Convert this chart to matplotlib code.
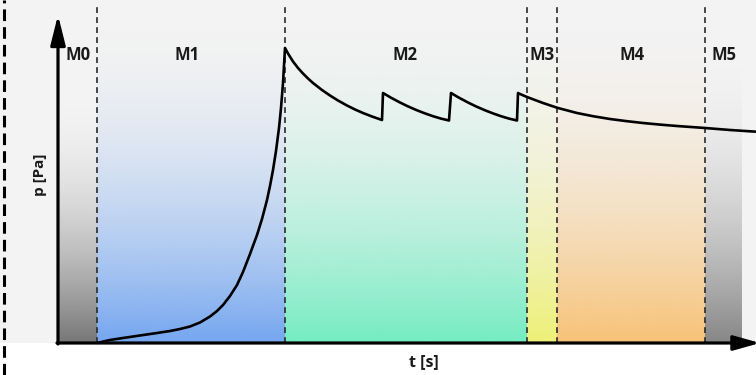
import numpy as np
import matplotlib
matplotlib.use("Agg")
import matplotlib.pyplot as plt
from matplotlib.colors import to_rgb

plt.rcParams['font.family'] = ['Open Sans', 'DejaVu Sans']

# Phase boundaries along t (arbitrary schematic units) and their labels
phase_edges = [0, 39, 227, 469, 499, 647, 684]
phase_labels = ["M0", "M1", "M2", "M3", "M4", "M5"]
phase_colors = ["#767676", "#74a6f0", "#74ecc2", "#eef076", "#f8c276", "#868686"]
phase_fade_top = [250, 330, 330, 330, 330, 290]
label_t = [20, 129, 347, 484, 574, 666]

# Pressure trace p(t)
t_curve = [39, 52, 65, 82, 99, 112, 122, 132, 142, 152, 159, 165, 172, 179, 185,
           192, 199, 204, 209, 212, 215, 218, 221, 223, 225, 227,
           230, 235, 240, 245, 250, 255, 264, 272, 280, 289, 297, 305, 314, 324,
           325, 333, 342, 350, 359, 367, 375, 383, 391,
           393, 401, 410, 418, 427, 435, 443, 451, 459,
           460, 462, 469, 477, 485, 500, 519, 535, 552, 569, 585, 602, 619, 647,
           672, 698]
p_curve = [0, 3, 5, 7.5, 10, 12, 14, 16.5, 20.5, 26.5, 32, 38, 47, 58, 71,
           89, 108, 124, 143, 157, 173, 192, 215, 235, 260, 295,
           289.5, 281.5, 275, 269.5, 264.5, 260, 253, 247.5, 242.5, 237.5, 233.5,
           230, 226.5, 223,
           250, 245.3, 240.5, 236.6, 232.7, 229.6, 226.8, 224.4, 222.5,
           250, 245.3, 240.5, 236.6, 232.7, 229.6, 226.8, 224.4, 222.5,
           250, 249, 246, 243, 240, 235, 230, 226.8, 224, 221.8, 220, 218.4,
           217, 215, 213, 211.3]

fig = plt.figure(figsize=(7.56, 3.75), dpi=100)
ax = fig.add_axes([0, 0, 1, 1])
ax.set_xlim(-58, 698)
ax.set_ylim(-32, 343)
ax.axis("off")
fig.patch.set_facecolor("white")

# light backdrop above the time axis
ax.axhspan(0, 343, color="#f3f3f3", zorder=0, lw=0)

# shaded phase bands, fading out toward the top
n = 256
for i in range(len(phase_labels)):
    t0, t1 = phase_edges[i], phase_edges[i + 1]
    top = phase_fade_top[i]
    rgb = to_rgb(phase_colors[i])
    s = np.linspace(1, 0, n)  # row 0 = bottom (opaque), last row = top (clear)
    alpha = s ** 1.9
    img = np.zeros((n, 1, 4))
    img[..., 0] = rgb[0]
    img[..., 1] = rgb[1]
    img[..., 2] = rgb[2]
    img[..., 3] = alpha[:, None]
    ax.imshow(img, extent=[t0, t1, 0, top], origin="lower", aspect="auto",
              interpolation="bilinear", zorder=1)

# phase separators
for edge in phase_edges[1:-1]:
    ax.plot([edge, edge], [0, 338], color="#2a2a2a", lw=1.2,
            linestyle=(0, (3.5, 2.5)), zorder=3)

# left frame of the slide
ax.plot([-54, -54], [-32, 343], color="black", lw=2.2,
        linestyle=(0, (3.8, 2.0)), zorder=3, clip_on=False)

# pressure curve
ax.plot(t_curve, p_curve, color="black", lw=1.9, zorder=5,
        solid_joinstyle="round", solid_capstyle="butt")

# axes with arrowheads
ax.annotate("", xy=(0, 328), xytext=(0, -1),
            arrowprops=dict(arrowstyle="-|>,head_length=1.8,head_width=0.45",
                            mutation_scale=10, lw=2.3, color="black",
                            shrinkA=0, shrinkB=0), zorder=6)
ax.annotate("", xy=(702, 0), xytext=(-1, 0),
            arrowprops=dict(arrowstyle="-|>,head_length=1.6,head_width=0.45",
                            mutation_scale=10, lw=2.3, color="black",
                            shrinkA=0, shrinkB=0), zorder=6,
            annotation_clip=False)

for lab, lt in zip(phase_labels, label_t):
    ax.text(lt, 288, lab, ha="center", va="center", fontsize=12,
            fontweight="bold", color="#1a1a1a", zorder=7)

ax.text(-18, 168, "p [Pa]", rotation=90, ha="center", va="center",
        fontsize=11, fontweight="bold", color="#1a1a1a")
ax.text(366, -19, "t [s]", ha="center", va="center",
        fontsize=11.5, fontweight="bold", color="#1a1a1a")

fig.savefig("out.png", dpi=100, facecolor="white")
